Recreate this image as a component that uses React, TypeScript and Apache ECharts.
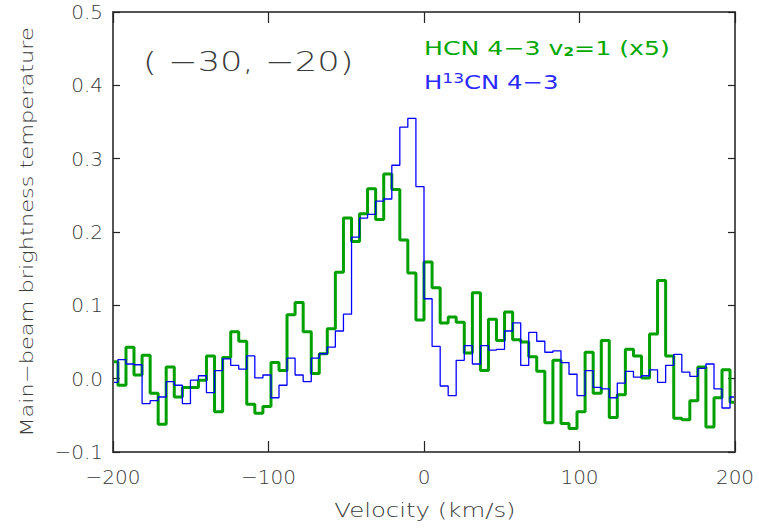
import React, { useEffect, useRef } from "react";
import * as echarts from "echarts";

// Channel centre velocities (km/s)
const velocity: number[] = [
  -199.4, -194.2, -189.1, -183.9, -178.7, -173.5, -168.4, -163.2, -158.0, -152.8,
  -147.6, -142.5, -137.3, -132.1, -126.9, -121.7, -116.6, -111.4, -106.2, -101.0,
  -95.8, -90.7, -85.5, -80.3, -75.1, -69.9, -64.8, -59.6, -54.4, -49.2,
  -44.0, -38.9, -33.7, -28.5, -23.3, -18.1, -13.0, -7.8, -2.6, 2.6,
  7.8, 13.0, 18.1, 23.3, 28.5, 33.7, 38.9, 44.0, 49.2, 54.4,
  59.6, 64.8, 69.9, 75.1, 80.3, 85.5, 90.7, 95.8, 101.0, 106.2,
  111.4, 116.6, 121.7, 126.9, 132.1, 137.3, 142.5, 147.6, 152.8, 158.0,
  163.2, 168.4, 173.5, 178.7, 183.9, 189.1, 194.2, 199.4,
];

// HCN 4-3 v2=1 (x5)
const hcnV2: number[] = [
  0.023, -0.009, 0.043, 0.005, 0.032, -0.020, -0.062, 0.016, -0.025, -0.012,
  -0.012, -0.002, 0.031, -0.045, 0.029, 0.064, 0.051, -0.035, -0.047, -0.038,
  0.022, 0.011, 0.087, 0.104, 0.064, 0.007, 0.034, 0.068, 0.145, 0.219,
  0.187, 0.225, 0.259, 0.217, 0.279, 0.258, 0.189, 0.144, 0.080, 0.159,
  0.124, 0.076, 0.084, 0.077, 0.035, 0.117, 0.011, 0.081, 0.052, 0.091,
  0.053, 0.050, 0.030, 0.010, -0.060, 0.025, -0.061, -0.068, -0.045, 0.036,
  -0.020, 0.052, -0.053, -0.022, 0.040, 0.031, 0.001, 0.061, 0.134, 0.031,
  -0.054, -0.056, -0.030, 0.016, -0.066, -0.026, 0.012, -0.032,
];

// H13CN 4-3
const h13cn: number[] = [
  -0.005, 0.026, 0.020, 0.019, -0.034, -0.030, -0.025, -0.004, -0.009, -0.034,
  -0.002, 0.004, -0.019, 0.011, 0.027, 0.018, 0.013, 0.031, 0.001, 0.005,
  -0.026, -0.009, 0.028, 0.005, -0.004, 0.028, 0.034, 0.043, 0.065, 0.088,
  0.193, 0.219, 0.224, 0.242, 0.245, 0.291, 0.343, 0.355, 0.262, 0.109,
  0.044, -0.010, -0.023, 0.025, 0.045, 0.020, 0.045, 0.039, 0.040, 0.065,
  0.076, 0.018, 0.063, 0.051, 0.036, 0.038, 0.022, 0.006, -0.023, 0.011,
  -0.012, -0.014, -0.026, -0.006, 0.010, 0.002, 0.004, 0.012, -0.005, 0.018,
  0.033, 0.009, 0.003, 0.014, 0.020, -0.014, -0.040, -0.025,
];

const xTicks = { min: -200, max: 200, interval: 100 };
const yTicks = { min: -0.1, max: 0.5, interval: 0.1 };

const FONT = "DejaVu Sans";
const GREEN_LINE = "#00a000";
const GREEN_TEXT = "#00a800";
const BLUE_LINE = "#0000ff";
const BLUE_TEXT = "#2a2aff";
const AXIS = "#555555";
const TEXT = "#3a3a3a";

const minus = (s: string) => s.replace("-", "\u2212");

export default function App() {
  const ref = useRef<HTMLDivElement>(null);

  useEffect(() => {
    if (!ref.current) return;
    const chart = echarts.init(ref.current, undefined, { renderer: "svg" });

    const axisLine = { show: true, onZero: false, lineStyle: { color: AXIS, width: 2 } };
    const xTick = { show: true, inside: true, length: 11, lineStyle: { color: "#222", width: 1.2 } };
    const yTick = { show: true, inside: true, length: 7, lineStyle: { color: "#222", width: 1.2 } };

    chart.setOption({
      animation: false,
      backgroundColor: "#ffffff",
      grid: { left: 113, right: 24, top: 12, bottom: 78, containLabel: false },
      xAxis: [
        {
          type: "value",
          position: "bottom",
          ...xTicks,
          axisLine,
          axisTick: xTick,
          splitLine: { show: false },
          axisLabel: {
            margin: 15,
            fontSize: 20,
            fontFamily: FONT,
            fontWeight: 300,
            color: TEXT,
            formatter: (v: number) => minus(String(Math.round(v))),
          },
        },
        {
          type: "value",
          position: "top",
          ...xTicks,
          axisLine,
          axisTick: xTick,
          splitLine: { show: false },
          axisLabel: { show: false },
        },
      ],
      yAxis: [
        {
          type: "value",
          position: "left",
          ...yTicks,
          axisLine,
          axisTick: yTick,
          splitLine: { show: false },
          axisLabel: {
            margin: 10,
            fontSize: 20,
            fontFamily: FONT,
            fontWeight: 300,
            color: TEXT,
            formatter: (v: number) => minus(v.toFixed(1)),
          },
        },
        {
          type: "value",
          position: "right",
          ...yTicks,
          axisLine,
          axisTick: yTick,
          splitLine: { show: false },
          axisLabel: { show: false },
        },
      ],
      series: [
        {
          name: "HCN 4-3 v2=1 (x5)",
          type: "line",
          step: "middle",
          xAxisIndex: 0,
          yAxisIndex: 0,
          data: velocity.map((v, i) => [v, hcnV2[i]]),
          symbol: "none",
          lineStyle: { color: GREEN_LINE, width: 3 },
          z: 2,
        },
        {
          name: "H13CN 4-3",
          type: "line",
          step: "middle",
          xAxisIndex: 0,
          yAxisIndex: 0,
          data: velocity.map((v, i) => [v, h13cn[i]]),
          symbol: "none",
          lineStyle: { color: BLUE_LINE, width: 1.3 },
          z: 3,
        },
      ],
      graphic: [
        {
          type: "text",
          x: 27,
          y: 232,
          rotation: Math.PI / 2,
          scaleX: 1.25,
          style: {
            text: "Main\u2212beam brightness temperature",
            fontFamily: FONT,
            fontSize: 18,
            fontWeight: 300,
            fill: TEXT,
            align: "center",
            verticalAlign: "middle",
            textAlign: "center",
            textVerticalAlign: "middle",
          },
        },
        {
          type: "text",
          x: 425,
          y: 510,
          scaleX: 1.22,
          style: {
            text: "Velocity (km/s)",
            fontFamily: FONT,
            fontSize: 20,
            fontWeight: 300,
            fill: TEXT,
            align: "center",
            verticalAlign: "middle",
            textAlign: "center",
            textVerticalAlign: "middle",
          },
        },
        {
          type: "text",
          x: 143,
          y: 62,
          scaleX: 1.36,
          style: {
            text: "( \u221230, \u221220)",
            fontFamily: FONT,
            fontSize: 26,
            fontWeight: 300,
            fill: TEXT,
            align: "left",
            verticalAlign: "middle",
            textAlign: "left",
            textVerticalAlign: "middle",
          },
        },
        {
          type: "text",
          x: 424,
          y: 48,
          scaleX: 1.26,
          style: {
            text: "HCN 4\u22123 v{s|2}=1 (x5)",
            fontFamily: FONT,
            fontSize: 20,
            fill: GREEN_TEXT,
            align: "left",
            verticalAlign: "middle",
            textAlign: "left",
            textVerticalAlign: "middle",
            rich: {
              s: { fontSize: 12, fontWeight: "bold", fill: GREEN_TEXT, fontFamily: FONT, verticalAlign: "bottom" },
            },
          },
        },
        {
          type: "text",
          x: 424,
          y: 82,
          scaleX: 1.22,
          style: {
            text: "H{p|13}CN 4\u22123",
            fontFamily: FONT,
            fontSize: 20,
            fill: BLUE_TEXT,
            align: "left",
            verticalAlign: "middle",
            textAlign: "left",
            textVerticalAlign: "middle",
            rich: {
              p: { fontSize: 14, fill: BLUE_TEXT, fontFamily: FONT, verticalAlign: "top" },
            },
          },
        },
      ],
    });

    return () => chart.dispose();
  }, []);

  return (
    <div
      ref={ref}
      style={{ position: "fixed", left: 0, top: 0, width: 759, height: 530, background: "#fff" }}
    />
  );
}
